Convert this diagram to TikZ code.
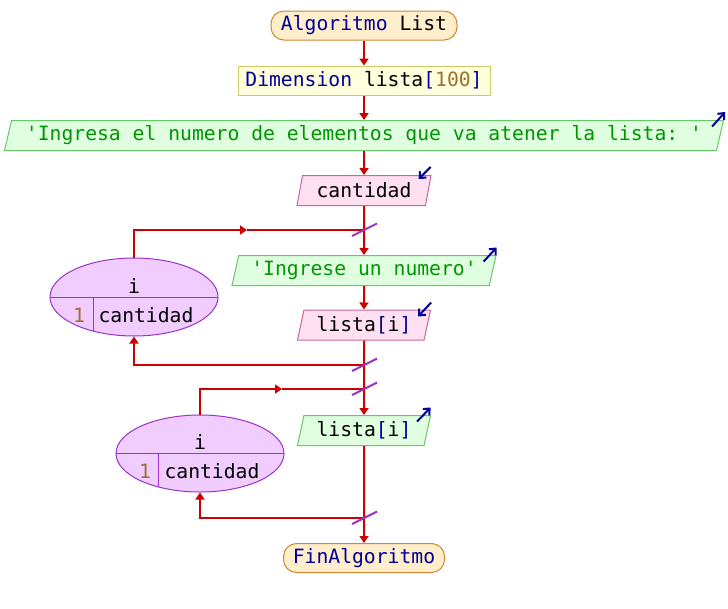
\documentclass[tikz,border=0pt]{standalone}
\usepackage{fontspec}
\setmonofont{DejaVu Sans Mono}
\usetikzlibrary{shapes.geometric,arrows.meta}

\definecolor{flowred}{RGB}{204,0,0}
\definecolor{kwblue}{RGB}{0,0,150}
\definecolor{strgreen}{RGB}{0,150,0}
\definecolor{numbrown}{RGB}{160,110,50}
\definecolor{termfill}{RGB}{255,238,204}
\definecolor{termdraw}{RGB}{204,136,51}
\definecolor{dimfill}{RGB}{255,255,221}
\definecolor{dimdraw}{RGB}{204,204,102}
\definecolor{outfill}{RGB}{224,255,224}
\definecolor{outdraw}{RGB}{102,200,102}
\definecolor{infill}{RGB}{255,224,240}
\definecolor{indraw}{RGB}{204,102,153}
\definecolor{loopfill}{RGB}{240,204,255}
\definecolor{loopdraw}{RGB}{153,51,204}

\newcommand\kw[1]{\textcolor{kwblue}{#1}}
\newcommand\numval[1]{\textcolor{numbrown}{#1}}
\newcommand\strval[1]{\textcolor{strgreen}{#1}}

\tikzset{
  term/.style={draw=termdraw,fill=termfill,line width=1pt,rounded corners=13pt,
    minimum height=29pt,inner sep=0pt},
  dimbox/.style={draw=dimdraw,fill=dimfill,line width=1pt,minimum height=29pt,inner sep=0pt},
  para/.style={trapezium,trapezium left angle=70,trapezium right angle=110,
    trapezium stretches body,line width=1pt,minimum height=30pt,inner sep=0pt},
  outbox/.style={para,draw=outdraw,fill=outfill},
  inbox/.style={para,draw=indraw,fill=infill},
  loopnode/.style={ellipse,draw=loopdraw,fill=loopfill,line width=1pt,
    minimum width=168pt,minimum height=78pt,inner sep=0pt},
  flow/.style={draw=flowred,line width=2pt},
  tip/.style={-{Triangle[width=9pt,length=7pt]}},
  slash/.style={draw=loopdraw,line width=2pt},
  icon/.style={draw=kwblue,line width=2pt,-{Straight Barb[length=5pt,width=9pt]}}
}

\begin{document}
\begin{tikzpicture}[x=1pt,y=-1pt,font=\ttfamily\fontsize{19.7}{23.6}\selectfont]
  \useasboundingbox (0,0) rectangle (728,608);

  % main column
  \node[term,minimum width=186pt] (start) at (364,25.5) {\kw{Algoritmo} List};
  \node[dimbox,minimum width=252pt] (dim) at (364,80.5) {\kw{Dimension} lista\kw{[}\numval{100}\kw{]}};
  \node[outbox,minimum width=719pt] (prompt) at (364,135.5)
    {\strval{'Ingresa el numero de elementos que va atener la lista: '}};
  \node[inbox,minimum width=134pt] (readc) at (364,190.5) {cantidad};
  \node[outbox,minimum width=264pt] (ask) at (364,270.5) {\strval{'Ingrese un numero'}};
  \node[inbox,minimum width=133pt] (readl) at (364,325) {lista\kw{[}i\kw{]}};
  \node[outbox,minimum width=133pt] (showl) at (364,430.5) {lista\kw{[}i\kw{]}};
  \node[term,minimum width=161pt] (finish) at (364,558) {\kw{FinAlgoritmo}};

  % loops
  \node[loopnode,path picture={
      \draw[loopdraw,line width=1pt] (path picture bounding box.west) -- (path picture bounding box.east);
      \draw[loopdraw,line width=1pt] ([xshift=-41pt]path picture bounding box.center) -- ++(0pt,-45pt);
    }] (ell1) at (134,297) {};
  \node (ell1var) at (134,286) {i};
  \node (ell1from) at (79,315) {\numval{1}};
  \node (ell1to) at (146,315) {cantidad};

  \node[loopnode,minimum height=77pt,path picture={
      \draw[loopdraw,line width=1pt] (path picture bounding box.west) -- (path picture bounding box.east);
      \draw[loopdraw,line width=1pt] ([xshift=-42pt]path picture bounding box.center) -- ++(0pt,-45pt);
    }] (ell2) at (200,453.5) {};
  \node (ell2var) at (200,442.5) {i};
  \node (ell2from) at (145,471.5) {\numval{1}};
  \node (ell2to) at (212,471.5) {cantidad};

  \coordinate (top1) at (364,230);
  \coordinate (bot1) at (364,365);
  \coordinate (top2) at (364,389);
  \coordinate (bot2) at (364,518);
  \coordinate (mid1) at (247,230);
  \coordinate (mid2) at (282,389);

  % connectors
  \draw[flow,tip] (start) -- (dim);
  \draw[flow,tip] (dim) -- (prompt);
  \draw[flow,tip] (prompt) -- (readc);
  \draw[flow,tip] (readc) -- (ask);
  \draw[flow,tip] (ask) -- (readl);
  \draw[flow,tip] (readl) -- (showl);
  \draw[flow,tip] (showl) -- (finish);

  \draw[flow,tip] (ell1.north) |- (mid1);
  \draw[flow] (mid1) -- (top1);
  \draw[flow,tip] (bot1) -| (ell1.south);
  \draw[flow,tip] (ell2.north) |- (mid2);
  \draw[flow] (mid2) -- (top2);
  \draw[flow,tip] (bot2) -| (ell2.south);

  \draw[slash] (top1) ++(-12,6) -- ++(25,-12.5);
  \draw[slash] (bot1) ++(-12,6) -- ++(25,-12.5);
  \draw[slash] (top2) ++(-12,6) -- ++(25,-12.5);
  \draw[slash] (bot2) ++(-12,6) -- ++(25,-12.5);

  % in/out marks
  \draw[icon] ([shift={(-12,6.5)}]prompt.top right corner) -- ++(13,-14.5);
  \draw[icon] ([shift={(-13,6.5)}]ask.top right corner) -- ++(13,-14);
  \draw[icon] ([shift={(-14,6.5)}]showl.top right corner) -- ++(13.5,-14);
  \draw[icon] ([shift={(-1,-8)}]readc.top right corner) -- ++(-12,12);
  \draw[icon] ([shift={(0,-7)}]readl.top right corner) -- ++(-13,14);
\end{tikzpicture}
\end{document}
